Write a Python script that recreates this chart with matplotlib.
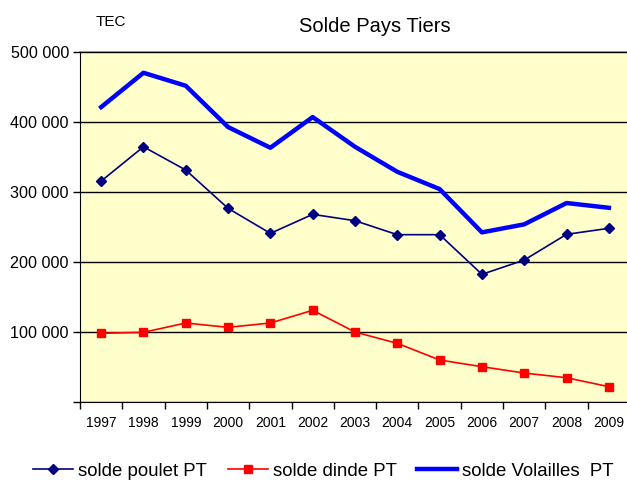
import matplotlib
matplotlib.use("Agg")
import matplotlib.pyplot as plt
from matplotlib.ticker import FuncFormatter

years = ["1997", "1998", "1999", "2000", "2001", "2002", "2003", "2004", "2005", "2006", "2007", "2008", "2009"]
poulet = [315700, 364800, 331500, 276700, 240900, 268100, 259000, 239000, 239000, 182300, 202700, 239500, 248100]
dinde = [97900, 99300, 112600, 106400, 112600, 130800, 99700, 83500, 59700, 50100, 41000, 34300, 21500]
volailles = [421600, 470700, 452100, 393000, 363400, 407300, 364800, 329000, 304300, 242300, 253800, 284300, 277500]

plt.rcParams['font.family'] = ['Liberation Sans', 'DejaVu Sans']

fig = plt.figure(figsize=(6.27, 4.82), dpi=100)
W, H = 627, 482
ax = fig.add_axes([80 / W, 1 - 401.7 / H, 550 / W, (401.7 - 52.3) / H])
ax.set_facecolor('#FFFFCC')

x = list(range(len(years)))
ax.plot(x, poulet, color='#000080', lw=1.2, marker='D', ms=5, label='solde poulet PT')
ax.plot(x, dinde, color='#FF0000', lw=1.2, marker='s', ms=5.5, label='solde dinde PT')
ax.plot(x, volailles, color='#0000FF', lw=3.2, label='solde Volailles  PT')

ax.set_xlim(-0.5, len(years) - 0.5)
ax.set_ylim(0, 500000)
ax.set_yticks([0, 100000, 200000, 300000, 400000, 500000])
ax.yaxis.set_major_formatter(FuncFormatter(lambda v, p: '' if v == 0 else f"{int(v):,}".replace(',', ' ')))
ax.set_xticks(x)
ax.set_xticklabels(years, fontsize=10)
ax.set_xticks([i - 0.5 for i in range(len(years) + 1)], minor=True)
ax.tick_params(axis='x', which='major', length=0, pad=10)
ax.tick_params(axis='x', which='minor', length=5, width=1, color='black')
ax.tick_params(axis='y', length=5, width=1, labelsize=11.6, pad=3)
ax.yaxis.grid(True, color='black', lw=1)
ax.set_axisbelow(True)

for s in ['top', 'right']:
    ax.spines[s].set_visible(False)
ax.spines['left'].set_color('black')
ax.spines['bottom'].set_color('black')
ax.axhline(500000, color='#808080', lw=1.2, clip_on=False, zorder=0.5)

fig.text(375 / W, 1 - 27 / H, 'Solde Pays Tiers', ha='center', va='center', fontsize=14.5)
fig.text(111 / W, 1 - 22 / H, 'TEC', ha='center', va='center', fontsize=11)

fig.legend(loc='center', bbox_to_anchor=(0.516, 1 - 471 / H), ncol=3, frameon=False,
           fontsize=13.4, handlelength=2.15, columnspacing=1.1, handletextpad=0.28)

fig.savefig('out.png', dpi=100)
